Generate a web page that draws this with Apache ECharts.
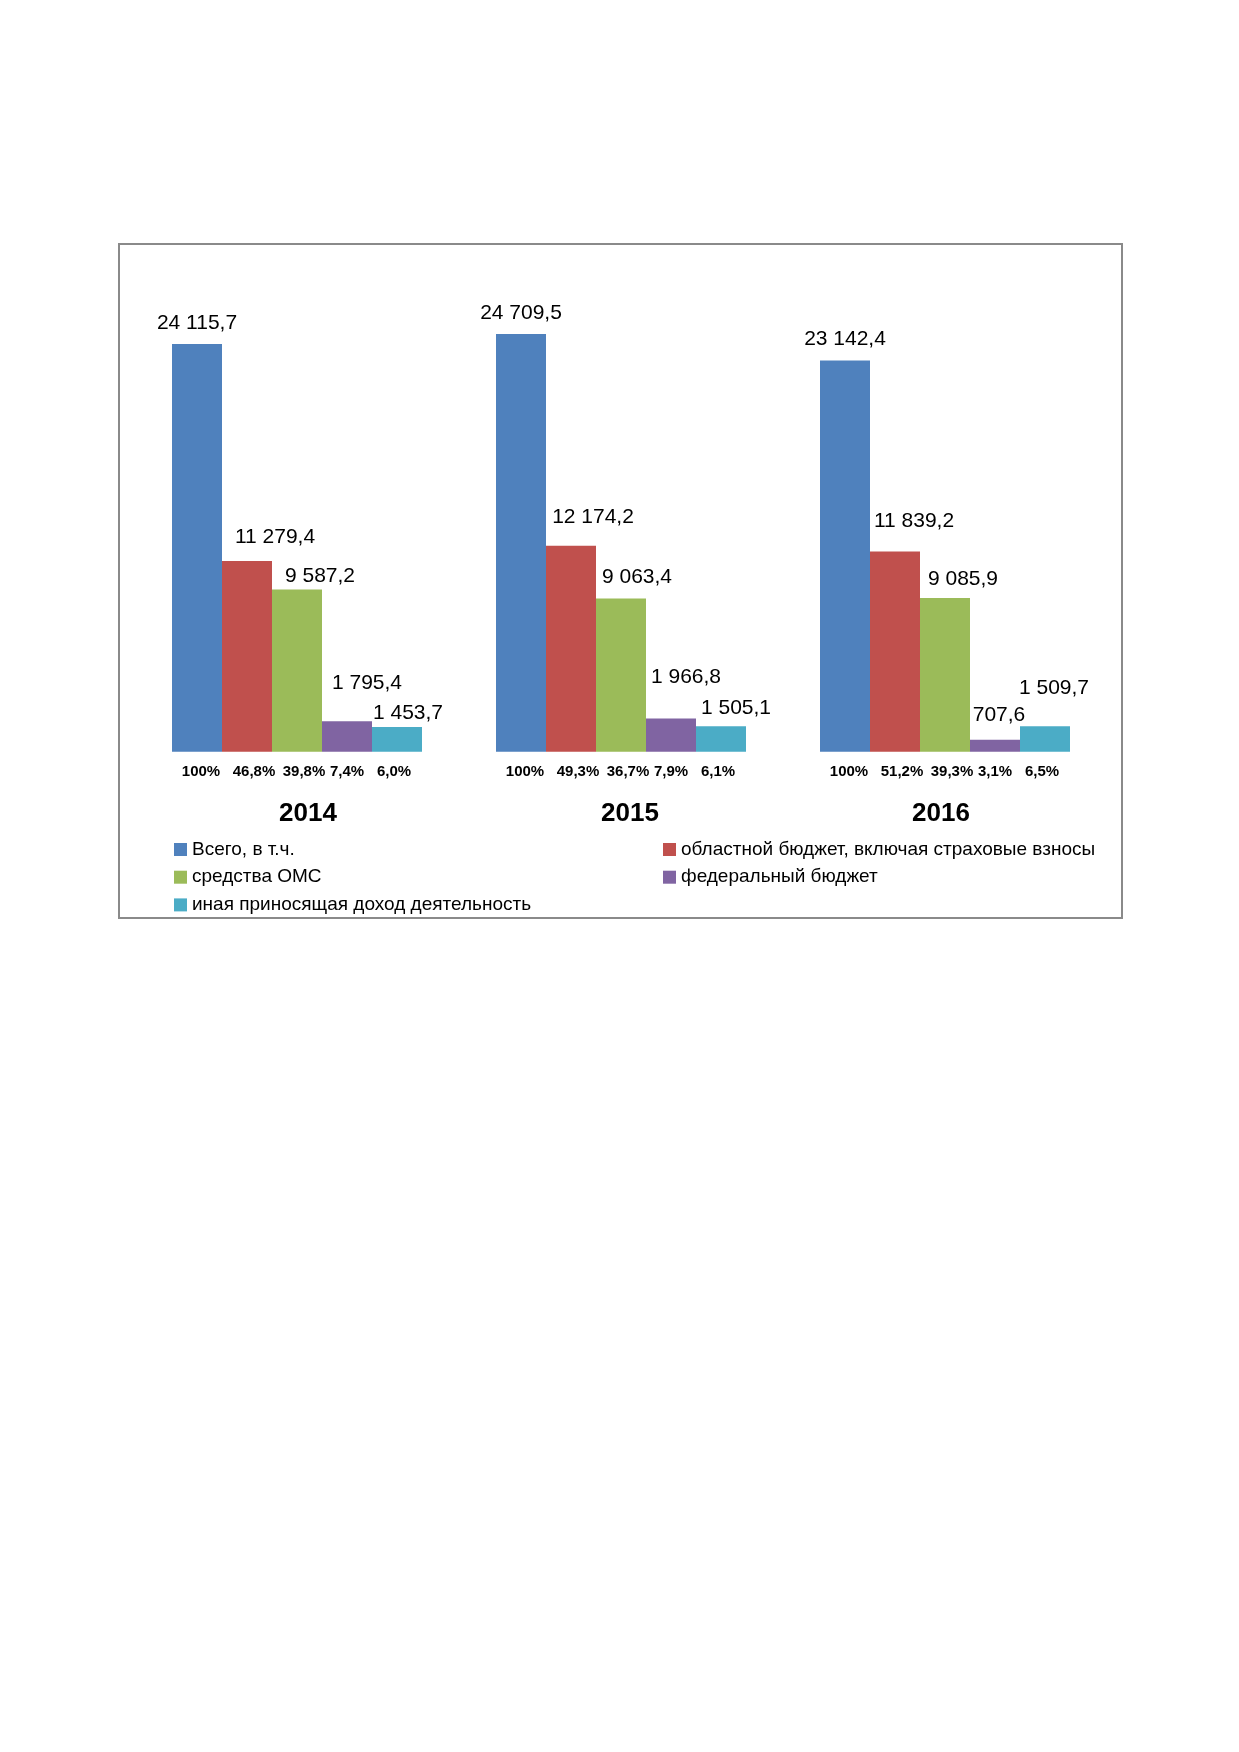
<!DOCTYPE html>
<html>
<head>
<meta charset="utf-8">
<script src="https://cdn.jsdelivr.net/npm/echarts@6/dist/echarts.min.js"></script>
<style>
html, body { margin: 0; padding: 0; background: #fff; }
#chart { width: 1239px; height: 1752px; }
</style>
</head>
<body>
<div id="chart"></div>
<script>
// data
var years = ['2014', '2015', '2016']
var seriesNames = [
    'Всего, в т.ч.',
    'областной бюджет, включая страховые взносы',
    'средства ОМС',
    'федеральный бюджет',
    'иная приносящая доход деятельность'
]
var total = [24115.7, 24709.5, 23142.4]
var regional = [11279.4, 12174.2, 11839.2]
var oms = [9587.2, 9063.4, 9085.9]
var federal = [1795.4, 1966.8, 707.6]
var other = [1453.7, 1505.1, 1509.7]

var totalShare = ['100%', '100%', '100%']
var regionalShare = ['46,8%', '49,3%', '51,2%']
var omsShare = ['39,8%', '36,7%', '39,3%']
var federalShare = ['7,4%', '7,9%', '3,1%']
var otherShare = ['6,0%', '6,1%', '6,5%']

var values = [total, regional, oms, federal, other]
var shares = [totalShare, regionalShare, omsShare, federalShare, otherShare]
var colors = ['#4F81BD', '#C0504D', '#9BBB59', '#8064A2', '#4BACC6']

// label nudges (Excel labels were dragged by hand), per series per year
var valueLabelShift = [
    [[0, -7], [0, -7], [0, -8]],
    [[28, -10], [22, -15], [19, -17]],
    [[23, 0], [16, -8], [18, -5]],
    [[20, -25], [15, -28], [4, -11]],
    [[11, 0], [15, -5], [9, -24]]
]
var shareShift = [4, 7, 7, 0, -3]
var yearShift = [11, 9, -4]

var font = 'Liberation Sans, Arial, sans-serif'

var fmt = function (v) {
    var parts = v.toFixed(1).split('.')
    var s = parts[0].replace(/\B(?=(\d{3})+(?!\d))/g, ' ')
    return s + ',' + parts[1]
}

var series = []
values.forEach(function (arr, i) {
    // zero-height helper at the base carries the share label
    series.push({
        name: 'share' + i,
        type: 'bar',
        stack: 's' + i,
        barWidth: 50,
        barGap: '0%',
        data: arr.map(function () { return 0 }),
        itemStyle: { color: 'transparent' },
        silent: true,
        label: {
            show: true,
            position: 'bottom',
            distance: 13,
            offset: [shareShift[i], 0],
            fontFamily: font,
            fontWeight: 'bold',
            fontSize: 15,
            color: '#000',
            formatter: function (p) { return shares[i][p.dataIndex] }
        }
    })
    series.push({
        name: seriesNames[i],
        type: 'bar',
        stack: 's' + i,
        barWidth: 50,
        barGap: '0%',
        itemStyle: { color: colors[i] },
        data: arr.map(function (v, j) {
            return { value: v, label: { offset: valueLabelShift[i][j] } }
        }),
        label: {
            show: true,
            position: 'top',
            distance: 3,
            fontFamily: font,
            fontSize: 21,
            color: '#000',
            formatter: function (p) { return fmt(p.value) }
        }
    })
})

var yearRich = {}
yearShift.forEach(function (d, j) {
    yearRich['y' + j] = {
        fontFamily: font,
        fontWeight: 'bold',
        fontSize: 26,
        color: '#000',
        padding: d > 0 ? [0, 0, 0, 2 * d] : [0, -2 * d, 0, 0]
    }
})

var legendText = {
    fontFamily: font,
    fontSize: 19,
    color: '#000',
    lineHeight: 19
}

var chart = echarts.init(document.getElementById('chart'))
chart.setOption({
    backgroundColor: '#fff',
    animation: false,
    graphic: [{
        type: 'rect',
        shape: { x: 119, y: 244, width: 1003, height: 674 },
        style: { fill: 'none', stroke: '#8a8a8a', lineWidth: 2 },
        z: -1
    }],
    grid: { left: 135, right: 132, top: 244.5, bottom: 1000.3 },
    xAxis: {
        type: 'category',
        data: years,
        axisLine: { show: false },
        axisTick: { show: false },
        axisLabel: {
            margin: 49,
            formatter: function (v, j) { return '{y' + j + '|' + v + '}' },
            rich: yearRich
        }
    },
    yAxis: {
        type: 'value',
        min: 0,
        max: 30000,
        show: false,
        splitLine: { show: false }
    },
    legend: [{
        orient: 'vertical',
        left: 174,
        top: 840,
        padding: 0,
        itemWidth: 13,
        itemHeight: 13,
        itemGap: 8.7,
        icon: 'rect',
        textStyle: legendText,
        data: [seriesNames[0], seriesNames[2], seriesNames[4]]
    }, {
        orient: 'vertical',
        left: 663,
        top: 840,
        padding: 0,
        itemWidth: 13,
        itemHeight: 13,
        itemGap: 8.7,
        icon: 'rect',
        textStyle: legendText,
        data: [seriesNames[1], seriesNames[3]]
    }],
    series: series
})
</script>
</body>
</html>
